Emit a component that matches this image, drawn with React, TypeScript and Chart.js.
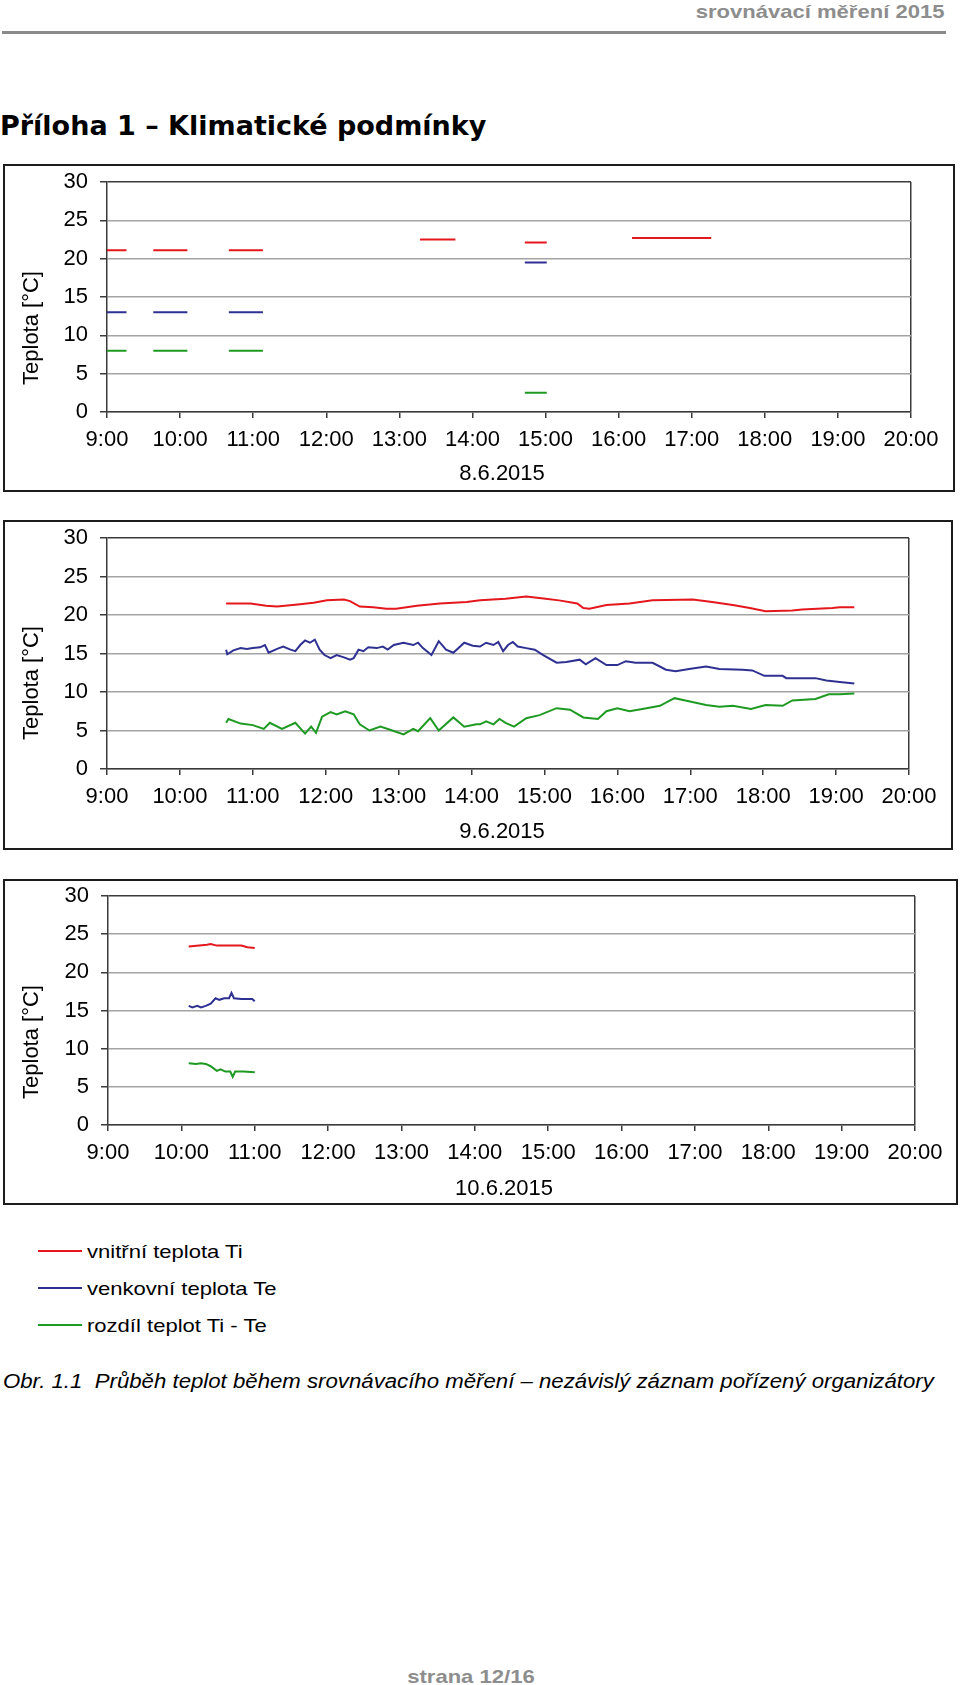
import React, { useEffect, useRef } from "react";
import { Chart, registerables } from "chart.js";

Chart.register(...registerables);

// ---------- shared axis data ----------
const hourTicks = ["9:00", "10:00", "11:00", "12:00", "13:00", "14:00", "15:00", "16:00", "17:00", "18:00", "19:00", "20:00"];
const tempTicks = [0, 5, 10, 15, 20, 25, 30];
const yAxisTitle = "Teplota [°C]";

const seriesLabels = ["vnitřní teplota Ti", "venkovní teplota Te", "rozdíl teplot Ti - Te"];
const seriesColors = ["#e4171d", "#2e3192", "#1e9a22"];

// ---------- 8.6.2015 (null = gap between measurements) ----------
const day1Label = "8.6.2015";
const d1TiTimes = ["9:00", "9:16", "9:27", "9:38", "10:06", "10:20", "10:40", "11:08", "12:00", "13:17", "13:46", "14:10", "14:43", "15:01", "15:30", "16:11", "17:16"];
const d1TiValues = [21.1, 21.1, null, 21.1, 21.1, null, 21.1, 21.1, null, 22.5, 22.5, null, 22.1, 22.1, null, 22.7, 22.7];
const d1TeTimes = ["9:00", "9:16", "9:27", "9:38", "10:06", "10:20", "10:40", "11:08", "12:00", "14:43", "15:01"];
const d1TeValues = [13.0, 13.0, null, 13.0, 13.0, null, 13.0, 13.0, null, 19.5, 19.5];
const d1DtTimes = ["9:00", "9:16", "9:27", "9:38", "10:06", "10:20", "10:40", "11:08", "12:00", "14:43", "15:01"];
const d1DtValues = [8.0, 8.0, null, 8.0, 8.0, null, 8.0, 8.0, null, 2.5, 2.5];

// ---------- 9.6.2015 ----------
const day2Label = "9.6.2015";
const d2TiTimes = ["10:38", "10:58", "11:11", "11:20", "11:39", "11:50", "12:01", "12:15", "12:20", "12:28", "12:39", "12:50", "12:58", "13:15", "13:34", "13:56", "14:07", "14:28", "14:45", "15:01", "15:12", "15:27", "15:32", "15:37", "15:51", "16:10", "16:29", "17:02", "17:18", "17:35", "17:49", "18:02", "18:24", "18:32", "18:57", "19:03", "19:15"];
const d2TiValues = [21.5, 21.5, 21.2, 21.1, 21.4, 21.6, 21.9, 22.0, 21.8, 21.1, 21.0, 20.8, 20.8, 21.2, 21.5, 21.7, 21.9, 22.1, 22.4, 22.1, 21.9, 21.5, 20.9, 20.8, 21.3, 21.5, 21.9, 22.0, 21.7, 21.3, 20.9, 20.5, 20.6, 20.7, 20.9, 21.0, 21.0];
const d2TeTimes = ["10:38", "10:39", "10:44", "10:50", "10:55", "11:00", "11:06", "11:10", "11:13", "11:20", "11:25", "11:31", "11:35", "11:39", "11:43", "11:47", "11:51", "11:55", "11:59", "12:04", "12:09", "12:15", "12:20", "12:23", "12:27", "12:31", "12:35", "12:42", "12:47", "12:51", "12:56", "13:04", "13:12", "13:16", "13:20", "13:27", "13:33", "13:39", "13:45", "13:54", "14:01", "14:07", "14:12", "14:18", "14:22", "14:26", "14:30", "14:34", "14:38", "14:45", "14:52", "14:59", "15:10", "15:18", "15:29", "15:34", "15:42", "15:51", "16:00", "16:07", "16:15", "16:29", "16:40", "16:48", "16:59", "17:13", "17:24", "17:43", "17:51", "18:01", "18:16", "18:19", "18:43", "18:52", "19:03", "19:15"];
const d2TeValues = [15.5, 14.9, 15.4, 15.7, 15.6, 15.7, 15.8, 16.1, 15.1, 15.6, 15.9, 15.5, 15.3, 16.1, 16.7, 16.4, 16.8, 15.5, 14.8, 14.4, 14.8, 14.5, 14.2, 14.4, 15.5, 15.3, 15.8, 15.7, 15.9, 15.5, 16.1, 16.4, 16.1, 16.4, 15.7, 14.8, 16.6, 15.5, 15.1, 16.4, 16.0, 15.9, 16.4, 16.1, 16.5, 15.3, 16.1, 16.5, 15.9, 15.7, 15.5, 14.8, 13.8, 13.9, 14.2, 13.6, 14.4, 13.5, 13.5, 14.0, 13.8, 13.8, 12.9, 12.7, 13.0, 13.3, 13.0, 12.9, 12.8, 12.1, 12.1, 11.8, 11.8, 11.5, 11.3, 11.1];
const d2DtTimes = ["10:38", "10:40", "10:50", "11:00", "11:09", "11:14", "11:24", "11:35", "11:43", "11:48", "11:52", "11:57", "12:04", "12:09", "12:16", "12:23", "12:28", "12:36", "12:45", "12:53", "13:04", "13:12", "13:16", "13:26", "13:33", "13:45", "13:54", "14:04", "14:07", "14:12", "14:18", "14:23", "14:28", "14:35", "14:45", "14:56", "15:10", "15:21", "15:32", "15:44", "15:51", "16:00", "16:10", "16:24", "16:35", "16:47", "16:56", "17:13", "17:24", "17:35", "17:50", "18:02", "18:16", "18:24", "18:43", "18:54", "19:03", "19:15"];
const d2DtValues = [6.0, 6.5, 5.9, 5.7, 5.2, 6.0, 5.2, 6.0, 4.6, 5.5, 4.7, 6.8, 7.4, 7.1, 7.5, 7.1, 5.8, 5.0, 5.5, 5.1, 4.5, 5.2, 4.9, 6.6, 5.0, 6.7, 5.5, 5.8, 5.8, 6.2, 5.8, 6.5, 6.0, 5.5, 6.6, 7.0, 7.9, 7.7, 6.7, 6.5, 7.5, 7.9, 7.5, 7.9, 8.2, 9.2, 8.9, 8.3, 8.1, 8.2, 7.8, 8.3, 8.2, 8.9, 9.1, 9.7, 9.7, 9.8];

// ---------- 10.6.2015 ----------
const day3Label = "10.6.2015";
const d3TiTimes = ["10:06", "10:21", "10:24", "10:29", "10:49", "10:54", "11:00"];
const d3TiValues = [23.4, 23.6, 23.7, 23.5, 23.5, 23.3, 23.2];
const d3TeTimes = ["10:06", "10:09", "10:13", "10:16", "10:20", "10:24", "10:28", "10:31", "10:35", "10:39", "10:41", "10:43", "10:49", "10:54", "10:58", "11:00"];
const d3TeValues = [15.6, 15.4, 15.6, 15.4, 15.6, 15.9, 16.6, 16.4, 16.6, 16.6, 17.3, 16.6, 16.5, 16.5, 16.5, 16.2];
const d3DtTimes = ["10:06", "10:12", "10:16", "10:20", "10:24", "10:29", "10:32", "10:36", "10:40", "10:42", "10:44", "10:51", "11:00"];
const d3DtValues = [8.1, 8.0, 8.1, 8.0, 7.7, 7.1, 7.3, 7.0, 7.0, 6.3, 7.0, 7.0, 6.9];

// ---------- helpers ----------
const FONT = '"Liberation Sans", Arial, Helvetica, sans-serif';
const AXIS = "#3a3a3a";
const GRID = "#a3a3a3";

const toHours = (t: string) => {
  const [h, m] = t.split(":").map(Number);
  return h + m / 60;
};
const points = (times: string[], values: (number | null)[]) =>
  times.map((t, i) => ({ x: toHours(t), y: values[i] }));

// draws the rotated y-axis title and the date below the x axis
const axisTextPlugin = {
  id: "axisText",
  afterDraw(chart: any, _args: any, opts: any) {
    const { ctx } = chart;
    ctx.save();
    ctx.font = `22px ${FONT}`;
    ctx.fillStyle = "#000";
    ctx.textAlign = "center";
    ctx.textBaseline = "middle";
    ctx.fillText(opts.dateText, opts.dateX, opts.dateY);
    ctx.translate(opts.yX, opts.yY);
    ctx.rotate(-Math.PI / 2);
    ctx.fillText(opts.yText, 0, 0);
    ctx.restore();
  },
};

type Box = { left: number; top: number; width: number; height: number };
type Plot = { left: number; top: number; right: number; bottom: number };

function DayChart(props: {
  frame: Box;
  plot: Plot;
  dateLabel: string;
  dateCenterX: number;
  dateCenterY: number;
  yLabelX: number;
  yLabelY: number;
  series: { times: string[]; values: (number | null)[] }[];
}) {
  const ref = useRef<HTMLCanvasElement | null>(null);
  const { frame, plot } = props;
  const border = 2;
  const cw = frame.width - 2 * border;
  const ch = frame.height - 2 * border;
  const ox = frame.left + border;
  const oy = frame.top + border;

  useEffect(() => {
    if (!ref.current) return;
    const yW = plot.left - ox;
    const padTop = plot.top - oy;
    const padRight = cw - (plot.right - ox);
    const xH = ch - (plot.bottom - oy);
    const minH = toHours(hourTicks[0]);
    const maxH = toHours(hourTicks[hourTicks.length - 1]);

    const chart = new Chart(ref.current, {
      type: "line",
      data: {
        datasets: props.series.map((s, i) => ({
          label: seriesLabels[i],
          data: points(s.times, s.values),
          borderColor: seriesColors[i],
          backgroundColor: seriesColors[i],
          borderWidth: 2,
          pointRadius: 0,
          tension: 0,
          spanGaps: false,
          fill: false,
        })),
      },
      options: {
        animation: false,
        responsive: false,
        events: [],
        layout: { padding: { top: padTop, right: padRight, left: 0, bottom: 0 } },
        plugins: {
          legend: { display: false },
          tooltip: { enabled: false },
          axisText: {
            yText: yAxisTitle,
            yX: props.yLabelX - ox,
            yY: props.yLabelY - oy,
            dateText: props.dateLabel,
            dateX: props.dateCenterX - ox,
            dateY: props.dateCenterY - oy,
          },
        } as any,
        scales: {
          x: {
            type: "linear",
            min: minH,
            max: maxH,
            afterFit: (s: any) => {
              s.height = xH;
              s.paddingLeft = 0;
              s.paddingRight = 0;
            },
            ticks: {
              stepSize: 1,
              autoSkip: false,
              maxRotation: 0,
              padding: 9,
              color: "#000",
              font: { family: FONT, size: 22 },
              callback: (v: any) => {
                const t = hourTicks.find((h) => Math.abs(toHours(h) - Number(v)) < 1e-6);
                return t ?? "";
              },
            },
            grid: {
              color: (c: any) => (c.tick && c.tick.value === maxH ? AXIS : "rgba(0,0,0,0)"),
              tickColor: AXIS,
              tickLength: 6,
              lineWidth: 1.5,
            },
            border: { color: AXIS, width: 1.5 },
          },
          y: {
            min: tempTicks[0],
            max: tempTicks[tempTicks.length - 1],
            afterFit: (s: any) => {
              s.width = yW;
              s.paddingTop = 0;
              s.paddingBottom = 0;
            },
            ticks: {
              stepSize: tempTicks[1] - tempTicks[0],
              padding: 12,
              color: "#000",
              font: { family: FONT, size: 22 },
            },
            grid: {
              color: (c: any) =>
                c.tick && c.tick.value === tempTicks[tempTicks.length - 1] ? AXIS : GRID,
              tickColor: AXIS,
              tickLength: 7,
              lineWidth: 1.5,
            },
            border: { color: AXIS, width: 1.5 },
          },
        },
      } as any,
      plugins: [axisTextPlugin],
    });
    return () => chart.destroy();
  }, []);

  return (
    <div
      style={{
        position: "absolute",
        left: frame.left,
        top: frame.top,
        width: frame.width,
        height: frame.height,
        boxSizing: "border-box",
        border: `${border}px solid #1c1c1c`,
        background: "#fff",
      }}
    >
      <canvas
        ref={ref}
        width={cw}
        height={ch}
        style={{ position: "absolute", left: 0, top: 0, width: cw, height: ch, display: "block" }}
      />
    </div>
  );
}

export default function App() {
  const gray = "#8d8d8d";
  const stretched = (extra: React.CSSProperties, origin: string, scale = 1.16): React.CSSProperties => ({
    display: "inline-block",
    whiteSpace: "pre",
    transform: `scaleX(${scale})`,
    transformOrigin: origin,
    ...extra,
  });

  return (
    <div
      style={{
        position: "absolute",
        left: 0,
        top: 0,
        width: 960,
        height: 1685,
        background: "#fff",
        overflow: "hidden",
        fontFamily: FONT,
      }}
    >
      {/* header */}
      <div style={{ position: "absolute", right: 16, top: 2, lineHeight: "19px", textAlign: "right" }}>
        <span style={stretched({ font: `bold 19px ${FONT}`, lineHeight: "19px", color: gray }, "right center")}>
          srovnávací měření 2015
        </span>
      </div>
      <div style={{ position: "absolute", left: 2, top: 31, width: 944, height: 3, background: "#8a8a8a" }} />

      {/* title */}
      <div
        style={{
          position: "absolute",
          left: 0,
          top: 112,
          font: 'bold 27px "DejaVu Sans", Verdana, sans-serif',
          lineHeight: "27px",
          whiteSpace: "nowrap",
          color: "#000",
        }}
      >
        Příloha 1 – Klimatické podmínky
      </div>

      <DayChart
        frame={{ left: 3, top: 164, width: 952, height: 328 }}
        plot={{ left: 107, top: 182, right: 911, bottom: 412 }}
        dateLabel={day1Label}
        dateCenterX={502}
        dateCenterY={474}
        yLabelX={31.5}
        yLabelY={328}
        series={[
          { times: d1TiTimes, values: d1TiValues },
          { times: d1TeTimes, values: d1TeValues },
          { times: d1DtTimes, values: d1DtValues },
        ]}
      />
      <DayChart
        frame={{ left: 3, top: 520, width: 950, height: 330 }}
        plot={{ left: 107, top: 538, right: 909, bottom: 769 }}
        dateLabel={day2Label}
        dateCenterX={502}
        dateCenterY={832}
        yLabelX={31.5}
        yLabelY={683}
        series={[
          { times: d2TiTimes, values: d2TiValues },
          { times: d2TeTimes, values: d2TeValues },
          { times: d2DtTimes, values: d2DtValues },
        ]}
      />
      <DayChart
        frame={{ left: 3, top: 879, width: 955, height: 326 }}
        plot={{ left: 108, top: 896, right: 915, bottom: 1125 }}
        dateLabel={day3Label}
        dateCenterX={504}
        dateCenterY={1189}
        yLabelX={31.5}
        yLabelY={1042}
        series={[
          { times: d3TiTimes, values: d3TiValues },
          { times: d3TeTimes, values: d3TeValues },
          { times: d3DtTimes, values: d3DtValues },
        ]}
      />

      {/* legend */}
      {seriesLabels.map((label, i) => {
        const lineY = [1251, 1288, 1325][i];
        return (
          <React.Fragment key={label}>
            <div
              style={{
                position: "absolute",
                left: 38,
                top: lineY - 1,
                width: 44,
                height: 2,
                background: seriesColors[i],
              }}
            />
            <div style={{ position: "absolute", left: 87, top: lineY + 6.5 - 16, lineHeight: "19px" }}>
              <span style={stretched({ font: `19px ${FONT}`, lineHeight: "19px", color: "#000" }, "left center")}>
                {label}
              </span>
            </div>
          </React.Fragment>
        );
      })}

      {/* caption */}
      <div style={{ position: "absolute", left: 3, top: 1371, lineHeight: "20px" }}>
        <span
          style={stretched(
            { font: `italic 20px ${FONT}`, lineHeight: "20px", color: "#000" },
            "left center",
            1.11
          )}
        >
          {"Obr. 1.1  Průběh teplot během srovnávacího měření – nezávislý záznam pořízený organizátory"}
        </span>
      </div>

      {/* footer */}
      <div style={{ position: "absolute", left: 0, width: 942, top: 1667, lineHeight: "19px", textAlign: "center" }}>
        <span style={stretched({ font: `bold 19px ${FONT}`, lineHeight: "19px", color: gray }, "center center")}>
          strana 12/16
        </span>
      </div>
    </div>
  );
}
